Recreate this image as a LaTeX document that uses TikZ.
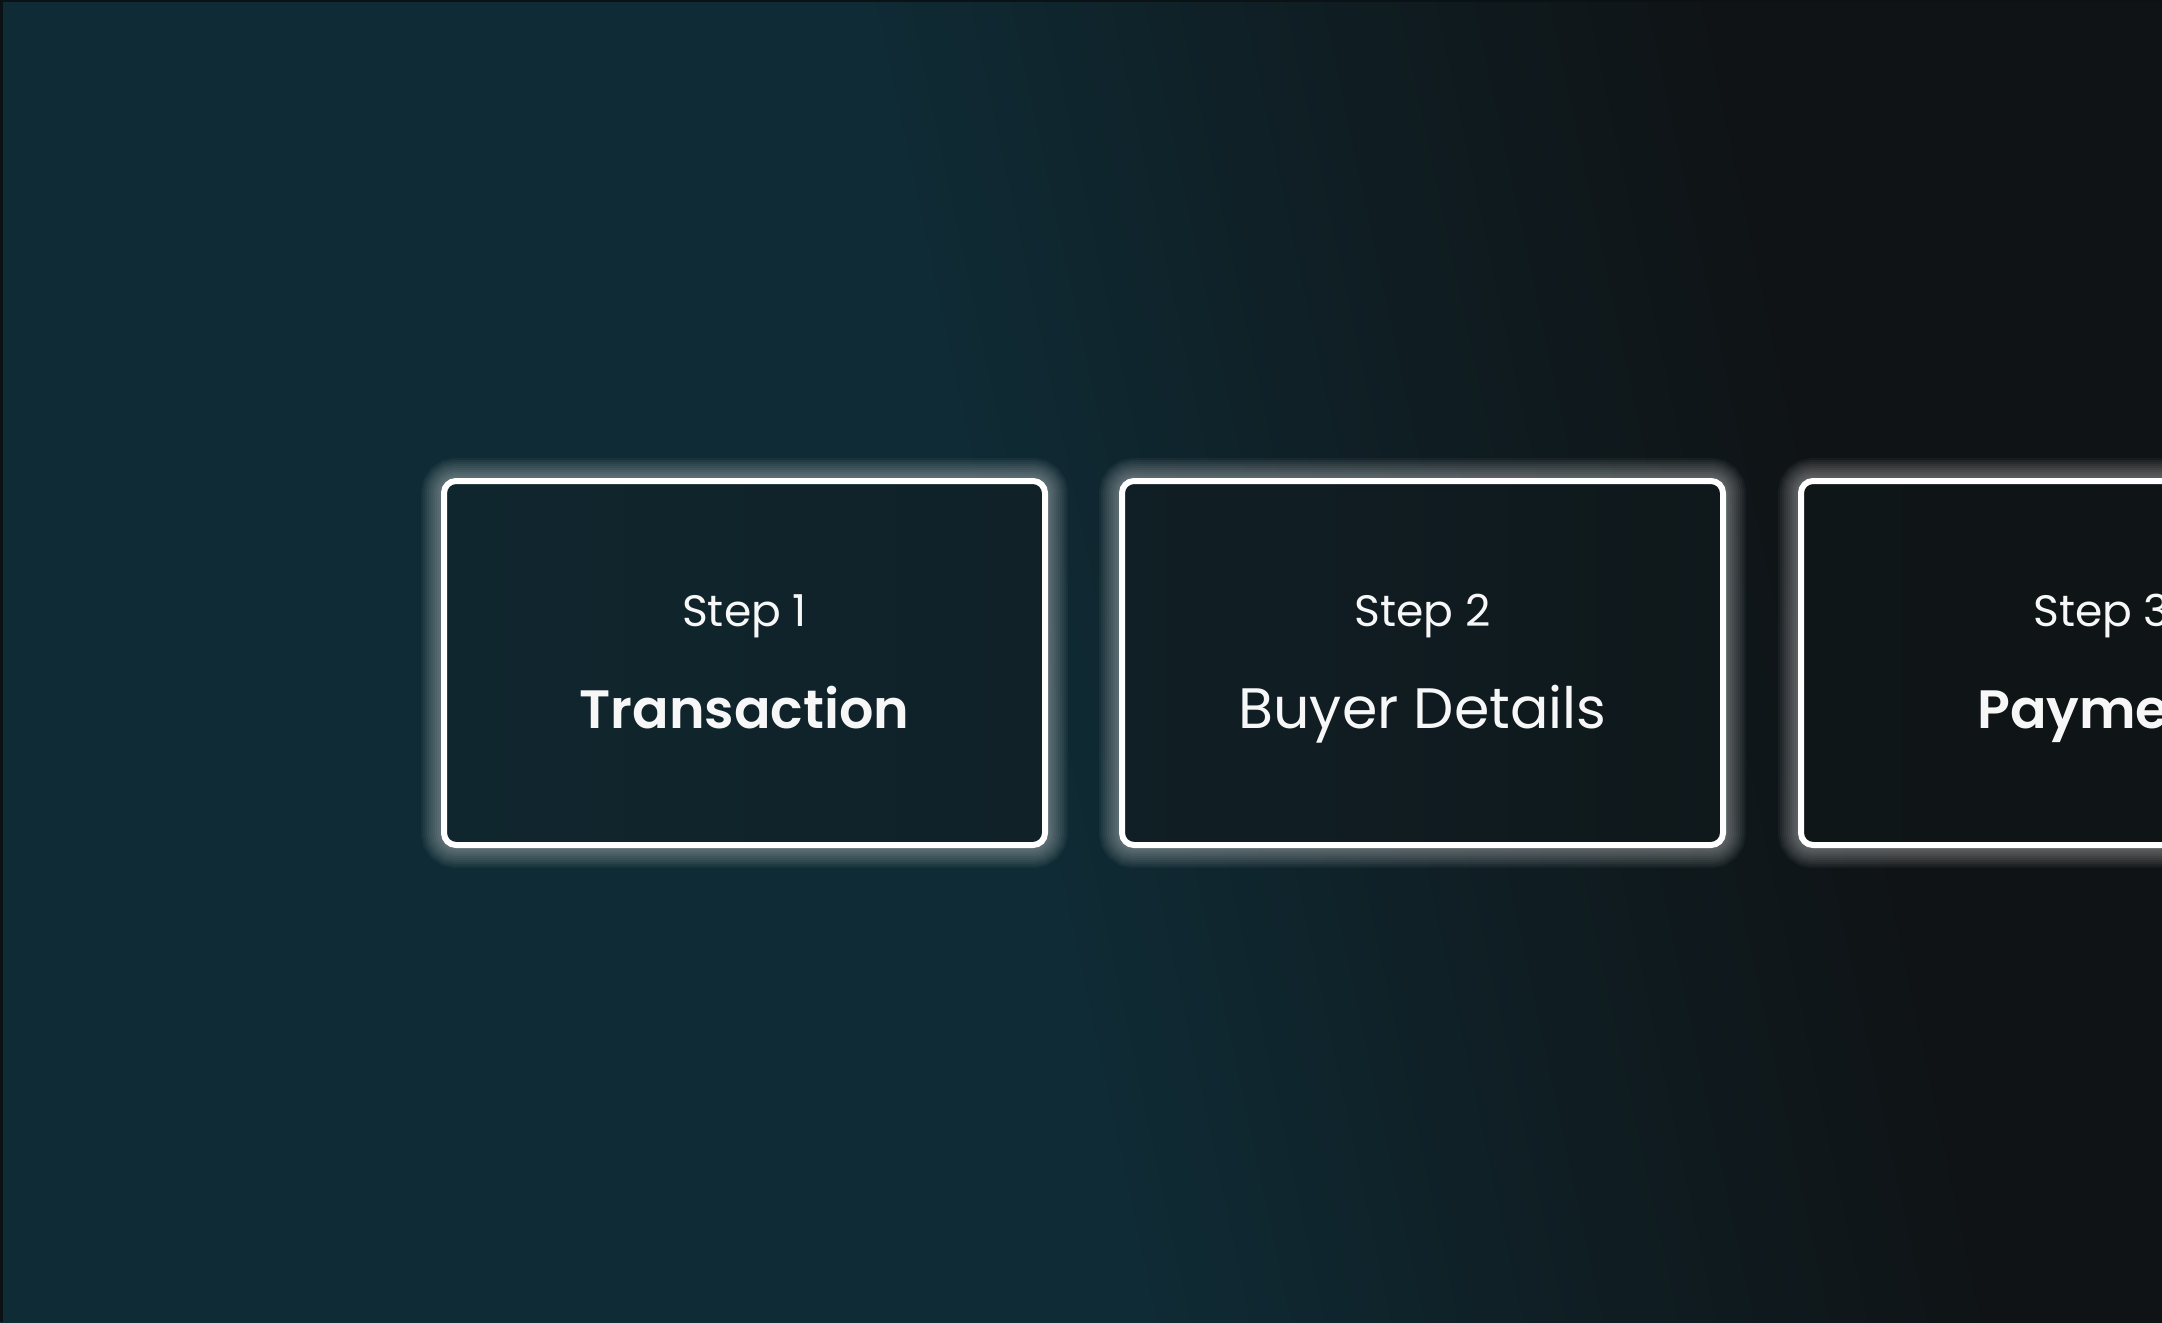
\documentclass[tikz,border=0pt]{standalone}
\usepackage{fontspec}
\setmainfont{Poppins}[BoldFont={Poppins SemiBold}]
\definecolor{bgteal}{HTML}{0F2B35}
\definecolor{bgmid}{HTML}{0F2026}
\definecolor{bgdark}{HTML}{0F1315}
\definecolor{edgedark}{HTML}{0A1216}
\definecolor{txt}{HTML}{F7F7F7}
\definecolor{b1l}{HTML}{10262E}
\definecolor{b1r}{HTML}{102128}
\definecolor{b2l}{HTML}{101F25}
\definecolor{b2r}{HTML}{0F181B}
\definecolor{b3l}{HTML}{0F1618}
\definecolor{b3r}{HTML}{0F1315}
\pgfdeclarehorizontalshading{bgshade}{100bp}{color(0bp)=(bgteal); color(48bp)=(bgteal); color(57bp)=(bgmid); color(69bp)=(bgdark); color(100bp)=(bgdark)}
\tikzset{
  glowlayer/.style={preaction={draw=white, draw opacity=0.04, line width=#1}},
  glow/.style={glowlayer=46, glowlayer=42, glowlayer=38, glowlayer=34, glowlayer=30,
               glowlayer=26, glowlayer=22, glowlayer=18, glowlayer=14, glowlayer=10},
  stepbox/.style={glow, draw=white, line width=6, rounded corners=12,
                  minimum width=601, minimum height=364, inner sep=0, outer sep=0},
  steplbl/.style={text=txt, font=\fontsize{44}{50}\selectfont, anchor=base, inner sep=0},
  titlereg/.style={text=txt, font=\fontsize{57}{64}\selectfont, anchor=base, inner sep=0},
  titlebold/.style={text=txt, font=\fontsize{54}{62}\selectfont\bfseries, anchor=base, inner sep=0},
}
\begin{document}
\begin{tikzpicture}[x=1pt, y=-1pt]
  \useasboundingbox (0,0) rectangle (2162,1322);
  \clip (0,0) rectangle (2162,1322);
  \shade[shading=bgshade, shading angle=12] (0,0) rectangle (2162,1322);
  \fill[edgedark] (0,0) rectangle (3,1322);
  \fill[edgedark] (0,0) rectangle (2162,2);

  \node[stepbox, left color=b1l, right color=b1r] (box1) at (744.5,663) {};
  \node[stepbox, left color=b2l, right color=b2r] (box2) at (1422.5,663) {};
  \node[stepbox, left color=b3l, right color=b3r] (box3) at (2101.5,663) {};

  \node[steplbl] (s1) at (744.5,626) {Step 1};
  \node[titlebold] (t1) at (744.5,728) {Transaction};
  \node[steplbl] (s2) at (1422.5,626) {Step 2};
  \node[titlereg] (t2) at (1422.5,728) {Buyer Details};
  \node[steplbl] (s3) at (2101.5,626) {Step 3};
  \node[titlebold] (t3) at (2101.5,728) {Payment};
\end{tikzpicture}
\end{document}
